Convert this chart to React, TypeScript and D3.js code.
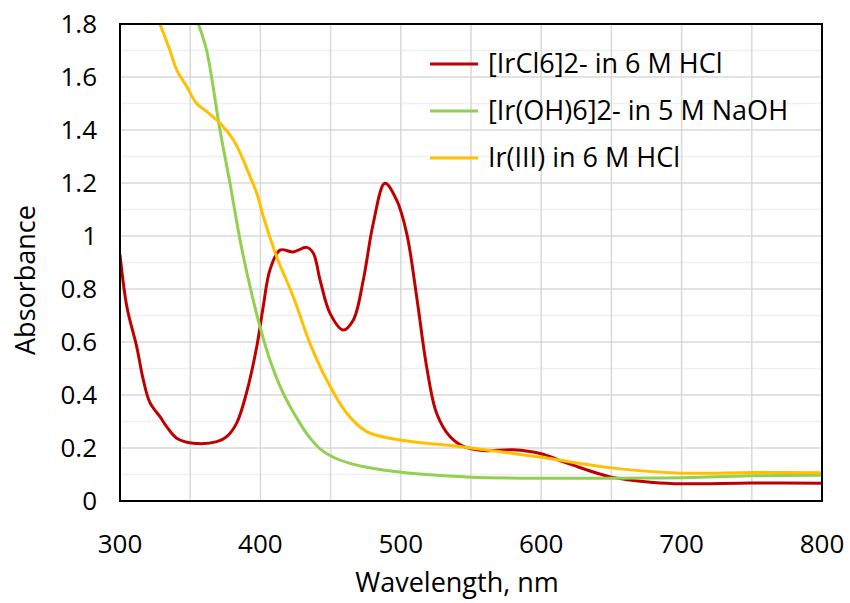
import * as d3 from "d3";

// UV-Vis spectra, values
const redNm = [300, 305, 312, 316.6, 321.4, 328.5, 333.3, 340.4, 352, 369, 376, 383, 390, 397.4, 402, 406.8, 414, 423.4, 433, 437.7, 442.5, 449.6, 459, 466.2, 473.3, 480.4, 488.7, 497, 504.2, 511.3, 518.4, 525.5, 535, 545, 560, 580, 600, 620, 650, 680, 700, 750, 800];
const redAbs = [0.93, 0.73, 0.58, 0.457, 0.37, 0.318, 0.28, 0.237, 0.218, 0.224, 0.243, 0.293, 0.406, 0.582, 0.733, 0.872, 0.947, 0.94, 0.957, 0.935, 0.834, 0.708, 0.645, 0.683, 0.834, 1.048, 1.199, 1.136, 1.01, 0.771, 0.507, 0.331, 0.243, 0.205, 0.19, 0.193, 0.178, 0.14, 0.09, 0.07, 0.065, 0.068, 0.067];

const greenNm = [355.8, 361.7, 371.2, 378.3, 385.5, 392.6, 399.7, 406.8, 416.3, 428.2, 435, 442.5, 452, 463.8, 475, 487.5, 505, 523.1, 550, 600, 650, 700, 750, 800];
const greenAbs = [1.8, 1.7, 1.4, 1.2, 0.985, 0.809, 0.658, 0.532, 0.406, 0.293, 0.24, 0.197, 0.165, 0.142, 0.128, 0.117, 0.106, 0.098, 0.09, 0.086, 0.086, 0.088, 0.095, 0.097];

const yellowNm = [328.5, 335.6, 340.4, 347.5, 354.6, 361.7, 371.2, 380.7, 387.8, 391.4, 397.4, 402.1, 411.6, 423.4, 435.3, 447.2, 461.5, 475.7, 499.4, 532.7, 550, 600, 650, 700, 750, 800];
const yellowAbs = [1.8, 1.7, 1.627, 1.564, 1.5, 1.47, 1.426, 1.363, 1.287, 1.24, 1.162, 1.073, 0.922, 0.771, 0.595, 0.457, 0.331, 0.262, 0.23, 0.211, 0.2, 0.165, 0.125, 0.105, 0.108, 0.107];

const seriesNames = ["[IrCl6]2- in 6 M HCl", "[Ir(OH)6]2- in 5 M NaOH", "Ir(III) in 6 M HCl"];
const seriesColors = ["#C00000", "#92D050", "#FFC000"];

const xTicks = [300, 400, 500, 600, 700, 800];
const yTicks = [0, 0.2, 0.4, 0.6, 0.8, 1, 1.2, 1.4, 1.6, 1.8];

const W = 850;
const H = 603;
const FONT = "'Open Sans', sans-serif";

export default function App() {
  const left = 120, right = 822, top = 24, bottom = 501;
  const x = d3.scaleLinear().domain([300, 800]).range([left, right]);
  const y = d3.scaleLinear().domain([0, 1.8]).range([bottom, top]);

  const line = d3
    .line<[number, number]>()
    .x((d) => x(d[0]))
    .y((d) => y(d[1]))
    .curve(d3.curveCatmullRom.alpha(0.5));

  const series = [
    d3.zip(redNm, redAbs) as [number, number][],
    d3.zip(greenNm, greenAbs) as [number, number][],
    d3.zip(yellowNm, yellowAbs) as [number, number][],
  ];

  const minorY = d3.range(0.1, 1.8, 0.2);
  const vGrid = d3.range(350, 800, 50);

  return (
    <svg width={W} height={H} style={{ position: "absolute", left: 0, top: 0 }}>
      <rect width={W} height={H} fill="white" />
      <defs>
        <clipPath id="plot">
          <rect x={left} y={top} width={right - left} height={bottom - top} />
        </clipPath>
      </defs>

      {/* gridlines */}
      {minorY.map((v) => (
        <line key={"m" + v} x1={left} x2={right} y1={y(v)} y2={y(v)} stroke="#f0f0f0" strokeWidth={1.5} />
      ))}
      {yTicks.map((v) => (
        <line key={"g" + v} x1={left} x2={right} y1={y(v)} y2={y(v)} stroke="#d9d9d9" strokeWidth={1.5} />
      ))}
      {vGrid.map((v) => (
        <line key={"v" + v} x1={x(v)} x2={x(v)} y1={top} y2={bottom} stroke="#d9d9d9" strokeWidth={1.5} />
      ))}

      {/* spectra */}
      <g clipPath="url(#plot)">
        {series.map((s, i) => (
          <path key={i} d={line(s) ?? ""} fill="none" stroke={seriesColors[i]} strokeWidth={3} strokeLinejoin="round" />
        ))}
      </g>

      {/* frame */}
      <rect x={left} y={top} width={right - left} height={bottom - top} fill="none" stroke="black" strokeWidth={2} />

      {/* y ticks */}
      {yTicks.map((v) => (
        <text key={"yt" + v} x={97} y={y(v)} dy="0.35em" textAnchor="end" fontFamily={FONT} fontSize={26} fill="black">
          {d3.format("~g")(v)}
        </text>
      ))}
      {/* x ticks */}
      {xTicks.map((v) => (
        <text key={"xt" + v} x={x(v)} y={553} textAnchor="middle" fontFamily={FONT} fontSize={26} fill="black">
          {v}
        </text>
      ))}

      <text x={457} y={592} textAnchor="middle" fontFamily={FONT} fontSize={27} fill="black">
        Wavelength, nm
      </text>
      <text transform={`translate(35, 280) rotate(-90)`} textAnchor="middle" fontFamily={FONT} fontSize={27} fill="black">
        Absorbance
      </text>

      {/* legend */}
      {seriesNames.map((name, i) => (
        <g key={name} transform={`translate(430, ${64 + i * 47})`}>
          <line x1={0} x2={48} y1={0} y2={0} stroke={seriesColors[i]} strokeWidth={3} />
          <text x={58} y={0} dy="0.35em" fontFamily={FONT} fontSize={27} fill="black">
            {name}
          </text>
        </g>
      ))}
    </svg>
  );
}
